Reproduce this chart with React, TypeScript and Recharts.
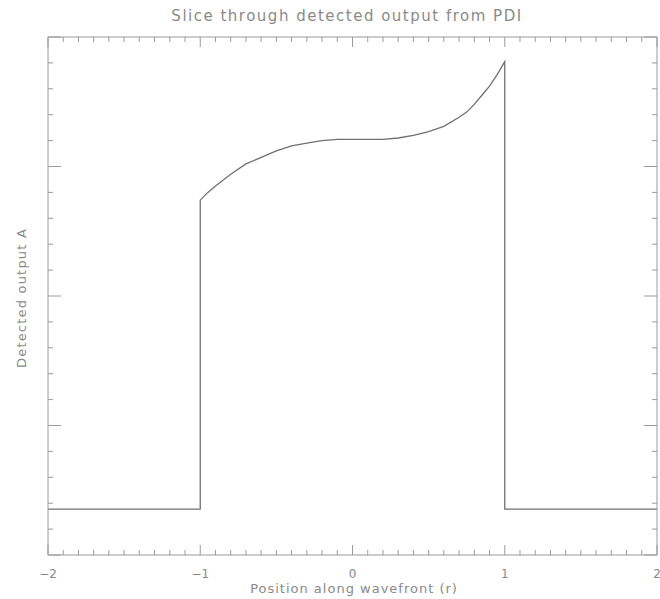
import React from 'react';
import { LineChart, Line, XAxis, YAxis } from 'recharts';

// x positions along the wavefront (r) and the detected output
const positions = [
  -2, -1, -1, -0.95, -0.9, -0.8, -0.7, -0.6, -0.5, -0.4, -0.3, -0.2, -0.1, 0,
  0.1, 0.2, 0.3, 0.4, 0.5, 0.6, 0.7, 0.75, 0.8, 0.85, 0.9, 0.95, 1, 1, 2,
];
const outputs = [
  0.355, 0.355, 2.74, 2.8, 2.85, 2.94, 3.02, 3.07, 3.12, 3.16, 3.18, 3.2, 3.21, 3.21,
  3.21, 3.21, 3.22, 3.24, 3.27, 3.31, 3.38, 3.42, 3.48, 3.55, 3.62, 3.71, 3.81, 0.355, 0.355,
];

const xMajorLabels = ['\u22122', '\u22121', '0', '1', '2'];
const xTicks = Array.from({ length: 41 }, (_, i) => Math.round((-2 + i * 0.1) * 10) / 10);
const yTicks = Array.from({ length: 21 }, (_, i) => Math.round(i * 0.2 * 10) / 10);

const data = positions.map((x, i) => ({ x, y: outputs[i] }));

const FRAME = '#9a9a9a';
const INK = '#707070';
const TEXT = '#8a8a8a';
const FONT = '"DejaVu Sans", sans-serif';

const isMajor = (v: number) => Math.abs(v - Math.round(v)) < 1e-6;

const BottomTick = (props: any) => {
  const { x, y, payload } = props;
  const v = payload.value;
  const major = isMajor(v);
  return (
    <g>
      <line x1={x} y1={y} x2={x} y2={y - (major ? 10 : 5)} stroke={FRAME} strokeWidth={1} />
      {major && (
        <text x={x} y={y + 23} textAnchor="middle" fontSize={12} fill={TEXT} fontFamily={FONT}>
          {xMajorLabels[Math.round(v) + 2]}
        </text>
      )}
    </g>
  );
};

const TopTick = (props: any) => {
  const { x, y, payload } = props;
  const major = isMajor(payload.value);
  return <line x1={x} y1={y} x2={x} y2={y + (major ? 10 : 5)} stroke={FRAME} strokeWidth={1} />;
};

const LeftTick = (props: any) => {
  const { x, y, payload } = props;
  const major = isMajor(payload.value);
  return <line x1={x} y1={y} x2={x + (major ? 13 : 5)} y2={y} stroke={FRAME} strokeWidth={1} />;
};

const RightTick = (props: any) => {
  const { x, y, payload } = props;
  const major = isMajor(payload.value);
  return <line x1={x} y1={y} x2={x - (major ? 13 : 5)} y2={y} stroke={FRAME} strokeWidth={1} />;
};

export default function App() {
  return (
    <div style={{ position: 'absolute', left: 0, top: 0, width: 660, height: 599, background: '#fff' }}>
      <div
        style={{
          position: 'absolute', left: 0, width: 694, top: 7, textAlign: 'center',
          fontFamily: FONT, fontSize: 15, letterSpacing: 1.5, color: TEXT,
        }}
      >
        Slice through detected output from PDI
      </div>
      <div
        style={{
          position: 'absolute', left: 354 - 200, width: 400, top: 581, textAlign: 'center',
          fontFamily: FONT, fontSize: 13, letterSpacing: 1, color: TEXT,
        }}
      >
        Position along wavefront (r)
      </div>
      <div
        style={{
          position: 'absolute', left: 22 - 100, width: 200, top: 298 - 8, textAlign: 'center',
          fontFamily: FONT, fontSize: 13, letterSpacing: 1.2, color: TEXT,
          transform: 'rotate(-90deg)', lineHeight: '16px',
        }}
      >
        Detected output A
      </div>
      <LineChart
        width={660}
        height={599}
        data={data}
        margin={{ top: 27, right: 0, bottom: 14, left: 38 }}
        style={{ position: 'absolute', left: 0, top: 0 }}
      >
        <XAxis
          dataKey="x"
          type="number"
          domain={[-2, 2]}
          ticks={xTicks}
          interval={0}
          height={30}
          tickSize={0}
          tickMargin={0}
          tickLine={false}
          tick={BottomTick}
          axisLine={{ stroke: FRAME }}
          allowDataOverflow
        />
        <XAxis
          xAxisId="top"
          orientation="top"
          dataKey="x"
          type="number"
          domain={[-2, 2]}
          ticks={xTicks}
          interval={0}
          height={10}
          tickSize={0}
          tickMargin={0}
          tickLine={false}
          tick={TopTick}
          axisLine={{ stroke: FRAME }}
          allowDataOverflow
        />
        <YAxis
          type="number"
          domain={[0, 4]}
          ticks={yTicks}
          interval={0}
          width={10}
          tickSize={0}
          tickMargin={0}
          tickLine={false}
          tick={LeftTick}
          axisLine={{ stroke: FRAME }}
          allowDataOverflow
        />
        <YAxis
          yAxisId="right"
          orientation="right"
          type="number"
          domain={[0, 4]}
          ticks={yTicks}
          interval={0}
          width={3}
          tickSize={0}
          tickMargin={0}
          tickLine={false}
          tick={RightTick}
          axisLine={{ stroke: FRAME }}
          allowDataOverflow
        />
        <Line
          type="linear"
          dataKey="y"
          stroke={INK}
          strokeWidth={1.3}
          dot={false}
          activeDot={false}
          isAnimationActive={false}
        />
      </LineChart>
    </div>
  );
}
